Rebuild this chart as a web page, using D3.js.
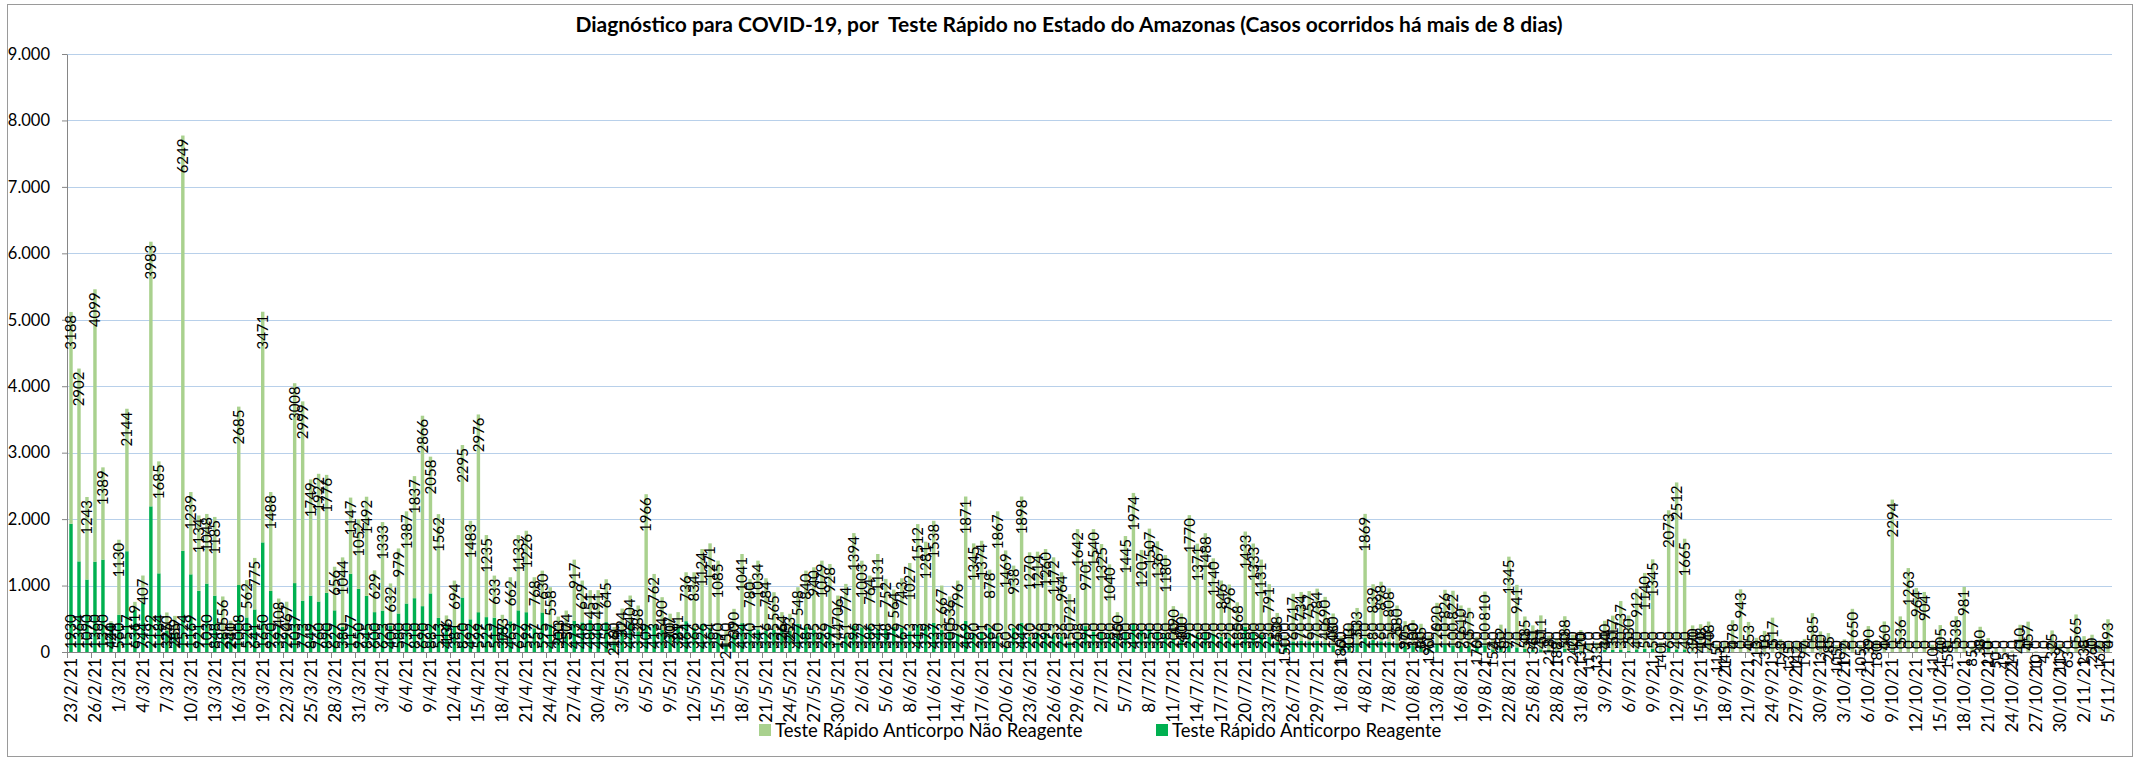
<!DOCTYPE html>
<html>
<head>
<meta charset="utf-8">
<script src="https://cdn.jsdelivr.net/npm/d3@7"></script>
<style>
  body { margin: 0; background: #fff; }
  text { font-family: Lato, 'Liberation Sans', sans-serif; }
</style>
</head>
<body>
<svg id="chart" width="2136" height="760"></svg>
<script>
const title = 'Diagnóstico para COVID-19, por  Teste Rápido no Estado do Amazonas (Casos ocorridos há mais de 8 dias)';
const seriesNames = ['Teste Rápido Anticorpo Não Reagente', 'Teste Rápido Anticorpo Reagente'];
const firstDay = new Date(2021, 1, 23);
const lastDay = new Date(2021, 10, 5);
const yTicks = [0, 1000, 2000, 3000, 4000, 5000, 6000, 7000, 8000, 9000];

// Teste Rápido Anticorpo Não Reagente (light green, top segment)
const naoReagente = [
  3188, 2902, 1243, 4099, 1389, 24, 1130, 2144, 119, 407,
  3983, 1685, 270, 259, 6249, 1239, 1134, 1048, 1185, 556,
  241, 2685, 562, 775, 3471, 1488, 408, 467, 3008, 2999,
  1749, 1922, 1776, 656, 1044, 1147, 1052, 1492, 629, 1333,
  632, 979, 1387, 1837, 2866, 2058, 1562, 136, 694, 2295,
  1483, 2976, 1235, 633, 183, 662, 1133, 1226, 768, 630,
  558, 233, 374, 917, 629, 451, 491, 645, 218, 324,
  404, 388, 1966, 762, 490, 307, 211, 736, 834, 1124,
  1271, 1085, 215, 390, 1041, 780, 1034, 784, 565, 264,
  253, 548, 840, 940, 1079, 928, 706, 774, 1394, 1003,
  764, 1131, 752, 564, 743, 1027, 1512, 1281, 1538, 667,
  536, 796, 1871, 1345, 1374, 878, 1867, 1469, 938, 1898,
  1270, 1214, 1260, 1172, 964, 721, 1642, 970, 1540, 1325,
  1040, 360, 1445, 1974, 1207, 1507, 1367, 1180, 490, 400,
  1770, 1371, 1488, 1140, 846, 796, 568, 1433, 1333, 1131,
  791, 438, 150, 717, 734, 757, 784, 690, 480, 180,
  303, 533, 1869, 839, 898, 808, 580, 375, 380, 345,
  190, 620, 826, 822, 610, 575, 170, 810, 152, 352,
  1345, 941, 485, 361, 511, 218, 188, 488, 240, 310,
  117, 133, 440, 517, 737, 530, 912, 1140, 1345, 140,
  2073, 2512, 1665, 390, 408, 448, 115, 145, 478, 943,
  453, 213, 318, 517, 193, 135, 142, 197, 585, 310,
  285, 105, 192, 650, 105, 390, 180, 460, 2294, 536,
  1263, 964, 904, 110, 405, 158, 538, 981, 85, 380,
  210, 50, 45, 24, 410, 457, 10, 4, 325, 119,
  63, 565, 238, 260, 162, 493
];

// Teste Rápido Anticorpo Reagente (dark green, bottom segment)
const reagente = [
  1930, 1364, 1090, 1360, 1390, 440, 560, 1517, 636, 744,
  2192, 1184, 325, 285, 1524, 1169, 921, 1030, 848, 280,
  230, 1008, 520, 641, 1650, 920, 397, 290, 1037, 773,
  849, 760, 890, 627, 380, 1177, 950, 845, 600, 623,
  400, 580, 730, 810, 690, 882, 513, 414, 381, 820,
  492, 599, 525, 517, 377, 463, 627, 599, 357, 595,
  417, 300, 250, 473, 446, 480, 440, 450, 160, 330,
  446, 312, 409, 413, 335, 270, 389, 464, 366, 426,
  364, 290, 110, 260, 434, 320, 341, 326, 335, 336,
  322, 427, 385, 335, 296, 397, 144, 251, 396, 372,
  386, 344, 348, 376, 367, 313, 413, 379, 437, 333,
  300, 279, 469, 290, 301, 362, 250, 60, 362, 442,
  230, 296, 290, 253, 236, 150, 208, 390, 310, 300,
  280, 240, 300, 420, 330, 350, 300, 280, 200, 180,
  290, 260, 300, 270, 230, 220, 180, 380, 300, 260,
  230, 150, 100, 160, 170, 160, 170, 140, 100, 60,
  110, 130, 210, 180, 160, 150, 120, 90, 100, 80,
  60, 120, 110, 100, 90, 90, 60, 100, 40, 60,
  90, 70, 50, 40, 40, 30, 20, 50, 20, 20,
  10, 10, 30, 30, 30, 20, 40, 50, 50, 10,
  60, 40, 40, 10, 10, 10, 0, 0, 0, 0,
  0, 0, 0, 0, 0, 0, 0, 0, 0, 0,
  0, 0, 0, 0, 0, 0, 0, 0, 0, 0,
  0, 0, 0, 0, 0, 0, 0, 0, 0, 0,
  0, 0, 0, 0, 0, 0, 0, 0, 0, 0,
  0, 0, 0, 0, 0, 0
];

const LIGHT = '#a9d18e';
const DARK = '#00b050';

const plot = { left: 67, right: 2112, top: 54, bottom: 652 };

const days = d3.timeDay.range(firstDay, d3.timeDay.offset(lastDay, 1));
const categories = days.map(d3.timeFormat('%-d/%-m/%y'));

const rows = categories.map((c, i) => ({ cat: c, r: reagente[i], nr: naoReagente[i] }));
const stacked = d3.stack().keys(['r', 'nr'])(rows);

const x = d3.scaleBand()
  .domain(categories)
  .range([plot.left, plot.right])
  .paddingInner(0.57)
  .paddingOuter(0.285);

const y = d3.scaleLinear()
  .domain([0, 9000])
  .range([plot.bottom, plot.top]);

const ptBR = d3.formatLocale({ decimal: ',', thousands: '.', grouping: [3], currency: ['R$', ''] });
const fmt = ptBR.format(',d');

const svg = d3.select('#chart');

// outer frame
svg.append('rect')
  .attr('x', 7.5).attr('y', 4.5)
  .attr('width', 2125).attr('height', 752)
  .attr('fill', '#fff')
  .attr('stroke', '#9a9a9a');

// title
svg.append('text')
  .attr('x', 1069).attr('y', 32)
  .attr('text-anchor', 'middle')
  .attr('font-size', 21)
  .attr('font-weight', 'bold')
  .style('white-space', 'pre')
  .text(title);

// gridlines
svg.append('g')
  .selectAll('line')
  .data(yTicks.filter(t => t > 0))
  .enter()
  .append('line')
  .attr('x1', plot.left).attr('x2', plot.right)
  .attr('y1', d => Math.round(y(d)) + 0.5)
  .attr('y2', d => Math.round(y(d)) + 0.5)
  .attr('stroke', '#b8d0ea')
  .attr('stroke-width', 1.2);

// y axis
const yAxis = svg.append('g')
  .attr('transform', `translate(${plot.left}, 0)`)
  .call(d3.axisLeft(y).tickValues(yTicks).tickFormat(fmt).tickSize(5).tickSizeOuter(0).tickPadding(12));
yAxis.select('.domain').attr('stroke', '#868686');
yAxis.selectAll('.tick line').attr('stroke', '#868686');
yAxis.selectAll('text')
  .attr('font-size', 16.5)
  .attr('fill', '#000')
  .style('font-family', 'Lato, sans-serif');

// bars
const colors = { r: DARK, nr: LIGHT };
svg.append('g')
  .selectAll('g')
  .data(stacked)
  .enter()
  .append('g')
  .attr('fill', d => colors[d.key])
  .selectAll('rect')
  .data(d => d)
  .enter()
  .append('rect')
  .attr('x', d => x(d.data.cat))
  .attr('width', x.bandwidth())
  .attr('y', d => y(d[1]))
  .attr('height', d => y(d[0]) - y(d[1]));

// x axis line + tick marks every 3rd category boundary
svg.append('line')
  .attr('x1', plot.left).attr('x2', plot.right)
  .attr('y1', plot.bottom + 0.5).attr('y2', plot.bottom + 0.5)
  .attr('stroke', '#868686');

const labelled = categories.filter((c, i) => i % 3 === 0);
const step = x.step();

svg.append('g')
  .selectAll('line')
  .data(labelled)
  .enter()
  .append('line')
  .attr('x1', d => Math.round(x(d) - (step - x.bandwidth()) / 2) + 0.5)
  .attr('x2', d => Math.round(x(d) - (step - x.bandwidth()) / 2) + 0.5)
  .attr('y1', plot.bottom).attr('y2', plot.bottom + 6)
  .attr('stroke', '#868686');

svg.append('g')
  .selectAll('text')
  .data(labelled)
  .enter()
  .append('text')
  .attr('transform', d => `translate(${x(d) + x.bandwidth() / 2}, ${plot.bottom + 6}) rotate(-90)`)
  .attr('text-anchor', 'end')
  .attr('dy', '0.35em')
  .attr('font-size', 17)
  .text(d => d);

// data labels: Reagente at inside base, Não Reagente at inside end
const labels = svg.append('g').attr('font-size', 15).attr('fill', '#000');

labels.selectAll('.lr')
  .data(stacked[0])
  .enter()
  .append('text')
  .attr('class', 'lr')
  .attr('transform', d => `translate(${x(d.data.cat) + x.bandwidth() / 2}, ${y(d[0]) - 3}) rotate(-90)`)
  .attr('text-anchor', 'start')
  .attr('dy', '0.35em')
  .text(d => d.data.r);

labels.selectAll('.lnr')
  .data(stacked[1])
  .enter()
  .append('text')
  .attr('class', 'lnr')
  .attr('transform', d => `translate(${x(d.data.cat) + x.bandwidth() / 2}, ${y(d[1]) + 3}) rotate(-90)`)
  .attr('text-anchor', 'end')
  .attr('dy', '0.35em')
  .text(d => d.data.nr);

// legend
const legend = svg.append('g').attr('font-size', 18.5);
const legendPos = [759, 1156];
seriesNames.forEach((name, i) => {
  const g = legend.append('g').attr('transform', `translate(${legendPos[i]}, 724)`);
  g.append('rect')
    .attr('width', 12).attr('height', 12)
    .attr('fill', i === 0 ? LIGHT : DARK);
  g.append('text')
    .attr('x', 16).attr('y', 12.5)
    .text(name);
});
</script>
</body>
</html>
